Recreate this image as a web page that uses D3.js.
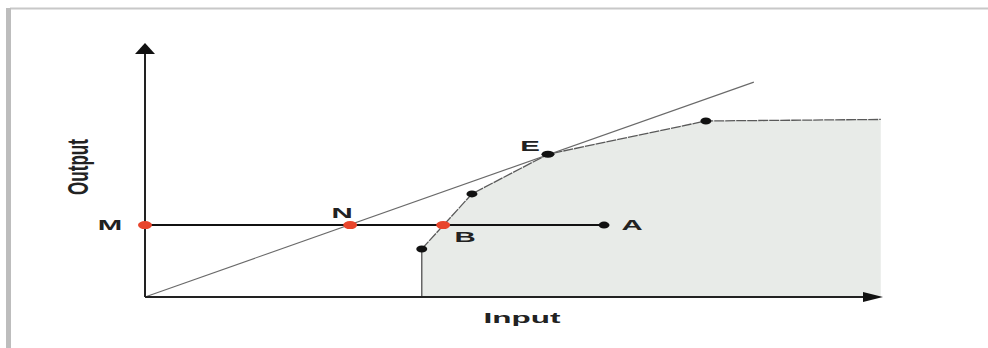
<!DOCTYPE html>
<meta charset="utf-8">
<style>
    body { margin: 0; background: #fff; }
    text { font-family: "Liberation Sans", Arial, sans-serif; fill: #222; }
</style>
<body>
<div id="chart"></div>
<script src="https://cdn.jsdelivr.net/npm/d3@7"></script>
<script>
    // frontier points (input, output)
    var frontier = [[37.5, 18.9], [44.3, 40.6], [54.6, 56.2], [76.0, 69.3], [99.7, 69.9]];
    var frontierDots = [[37.5, 18.9], [44.3, 40.6], [54.6, 56.2], [76.0, 69.3]];
    // ray from origin through N and E
    var ray = [[0, 0], [82.5, 84.6]];
    // horizontal line at level M
    var mLevel = 28.3;
    var redDots = [{name: "M", x: 0}, {name: "N", x: 27.8}, {name: "B", x: 40.4}];
    var pointA = 62.2;
    var pointE = [54.6, 56.2];

    var width = 988, height = 348;

    var svg = d3.select("#chart").append("svg")
        .attr("width", width)
        .attr("height", height);

    var x = d3.scaleLinear().domain([0, 100]).range([145, 883]);
    var y = d3.scaleLinear().domain([0, 100]).range([297, 43]);

    // frame
    svg.append("line").attr("x1", 10).attr("x2", width).attr("y1", 8.5).attr("y2", 8.5)
        .attr("stroke", "#c8c8c8").attr("stroke-width", 2);
    svg.append("line").attr("x1", 8.5).attr("x2", 8.5).attr("y1", 8).attr("y2", height)
        .attr("stroke", "#bdbdbd").attr("stroke-width", 5);

    var line = d3.line().x(function (d) { return x(d[0]); }).y(function (d) { return y(d[1]); });

    // shaded feasible set
    var area = [[frontier[0][0], 0]].concat(frontier).concat([[frontier[frontier.length - 1][0], 0]]);
    svg.append("path")
        .attr("d", line(area) + "Z")
        .attr("fill", "#e8ebe8");

    // vertical left edge of the set
    svg.append("line")
        .attr("x1", x(frontier[0][0])).attr("x2", x(frontier[0][0]))
        .attr("y1", y(0)).attr("y2", y(frontier[0][1]))
        .attr("stroke", "#666").attr("stroke-width", 1.5);

    // frontier
    svg.append("path").attr("d", line(frontier))
        .attr("fill", "none").attr("stroke", "#5a5a5a").attr("stroke-width", 1.3)
        .attr("stroke-dasharray", "10,1");

    // ray
    svg.append("path").attr("d", line(ray))
        .attr("fill", "none").attr("stroke", "#6a6a6a").attr("stroke-width", 1.1);

    // axes
    svg.append("line").attr("x1", x(0)).attr("x2", x(100) - 6).attr("y1", y(0)).attr("y2", y(0))
        .attr("stroke", "#222").attr("stroke-width", 2);
    svg.append("line").attr("x1", x(0)).attr("x2", x(0)).attr("y1", y(0)).attr("y2", y(100) + 4)
        .attr("stroke", "#222").attr("stroke-width", 2);
    svg.append("path")
        .attr("d", "M" + x(100) + "," + y(0) + "L" + (x(100) - 20) + "," + (y(0) - 5) +
            "L" + (x(100) - 20) + "," + (y(0) + 5) + "Z")
        .attr("fill", "#111");
    svg.append("path")
        .attr("d", "M" + x(0) + "," + y(100) + "L" + (x(0) - 10) + "," + (y(100) + 11) +
            "L" + (x(0) + 10) + "," + (y(100) + 11) + "Z")
        .attr("fill", "#111");

    // M line to A
    svg.append("line").attr("x1", x(0)).attr("x2", x(pointA)).attr("y1", y(mLevel)).attr("y2", y(mLevel))
        .attr("stroke", "#111").attr("stroke-width", 2);
    svg.append("ellipse").attr("cx", x(pointA)).attr("cy", y(mLevel)).attr("rx", 5.5).attr("ry", 3.5)
        .attr("fill", "#111");

    // black dots on the frontier
    svg.selectAll(".fdot").data(frontierDots).enter().append("ellipse")
        .attr("class", "fdot")
        .attr("cx", function (d) { return x(d[0]); })
        .attr("cy", function (d) { return y(d[1]); })
        .attr("rx", function (d, i) { return i == 2 ? 6.5 : 5.5; })
        .attr("ry", 3.5)
        .attr("fill", "#111");

    // red dots
    svg.selectAll(".rdot").data(redDots).enter().append("ellipse")
        .attr("class", "rdot")
        .attr("cx", function (d) { return x(d.x); })
        .attr("cy", y(mLevel))
        .attr("rx", 7).attr("ry", 4)
        .attr("fill", "#e8452c");

    // point labels (wide bold letters)
    var labels = [
        {t: "M", px: x(0) - 35, py: y(mLevel) + 5},
        {t: "N", px: x(27.8) - 8, py: y(mLevel) - 7},
        {t: "B", px: x(40.4) + 22, py: y(mLevel) + 17},
        {t: "E", px: x(pointE[0]) - 18, py: y(pointE[1]) - 3},
        {t: "A", px: x(pointA) + 28, py: y(mLevel) + 5}
    ];
    svg.selectAll(".lbl").data(labels).enter().append("text")
        .attr("class", "lbl")
        .attr("transform", function (d) { return "translate(" + d.px + "," + d.py + ") scale(2.1,1)"; })
        .attr("text-anchor", "middle")
        .style("font-size", "14px")
        .style("font-weight", "bold")
        .text(function (d) { return d.t; });

    // axis titles
    svg.append("text")
        .attr("transform", "translate(522,323) scale(2.1,1)")
        .attr("text-anchor", "middle")
        .style("font-size", "15px")
        .style("font-weight", "bold")
        .text("Input");

    svg.append("text")
        .attr("transform", "translate(88,167) scale(2.4,1) rotate(-90)")
        .attr("text-anchor", "middle")
        .attr("textLength", 56)
        .attr("lengthAdjust", "spacingAndGlyphs")
        .style("font-size", "12px")
        .style("font-weight", "bold")
        .text("Output");
</script>
</body>
